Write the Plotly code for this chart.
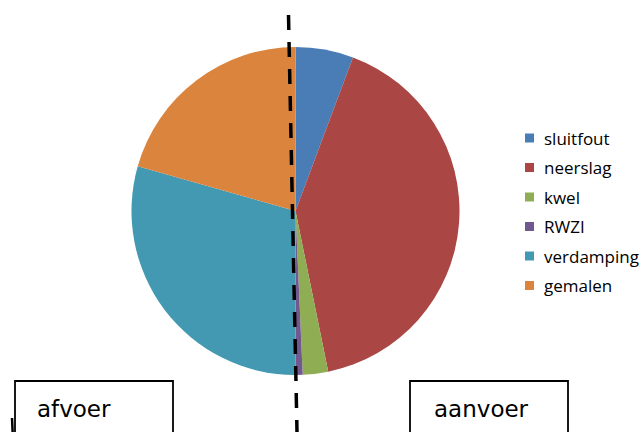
import plotly.graph_objects as go

labels = ["sluitfout", "neerslag", "kwel", "RWZI", "verdamping", "gemalen"]
values = [5.7, 41.1, 2.5, 0.7, 29.4, 20.6]
colors = ["#4A7CB6", "#AA4644", "#8FAE53", "#71588F", "#4299B1", "#DB843D"]
box_labels = ["afvoer", "aanvoer"]

W, H = 644, 432
cx, cy, r = 295.5, 211, 164

fig = go.Figure(go.Pie(
    labels=labels, values=values, sort=False, direction="clockwise", rotation=0,
    marker=dict(colors=colors, line=dict(width=0)),
    textinfo="none", showlegend=False,
    domain=dict(x=[(cx - r) / W, (cx + r) / W], y=[1 - (cy + r) / H, 1 - (cy - r) / H]),
))

shapes = []
annotations = []
# manual legend
for i, (lab, col) in enumerate(zip(labels, colors)):
    yc = 138 + i * 29.5
    shapes.append(dict(type="rect", xref="paper", yref="paper",
                       x0=525 / W, x1=534 / W, y0=1 - (yc + 4.5) / H, y1=1 - (yc - 4.5) / H,
                       fillcolor=col, line=dict(width=0)))
    annotations.append(dict(text=lab, xref="paper", yref="paper", x=542 / W, y=1 - yc / H,
                            xanchor="left", yanchor="middle", showarrow=False,
                            font=dict(family="Open Sans", size=17, color="#000000")))

# dashed divider
shapes.append(dict(type="line", xref="paper", yref="paper",
                   x0=288.5 / W, y0=1 - 15 / H, x1=297 / W, y1=1 - 432 / H,
                   line=dict(color="black", width=3.5, dash="15px,12px")))

# boxes
for lab, (bx0, bx1, tx) in zip(box_labels, [(15, 173, 35), (410, 568, 432)]):
    shapes.append(dict(type="rect", xref="paper", yref="paper",
                       x0=bx0 / W, x1=bx1 / W, y0=1 - 450 / H, y1=1 - 381 / H,
                       line=dict(color="black", width=1.8), fillcolor="rgba(0,0,0,0)"))
    annotations.append(dict(text=lab, xref="paper", yref="paper", x=tx / W, y=1 - 424 / H,
                            xanchor="left", yanchor="bottom", showarrow=False,
                            font=dict(family="DejaVu Sans", size=23, color="#000000")))

# small arrow stub at left
shapes.append(dict(type="line", xref="paper", yref="paper",
                   x0=12 / W, y0=1 - 418 / H, x1=13 / W, y1=1 - 440 / H,
                   line=dict(color="black", width=2.5)))

fig.update_layout(
    width=W, height=H, margin=dict(l=0, r=0, t=0, b=0),
    paper_bgcolor="white", plot_bgcolor="white",
    shapes=shapes, annotations=annotations, showlegend=False,
)
fig.write_html("out.html")
